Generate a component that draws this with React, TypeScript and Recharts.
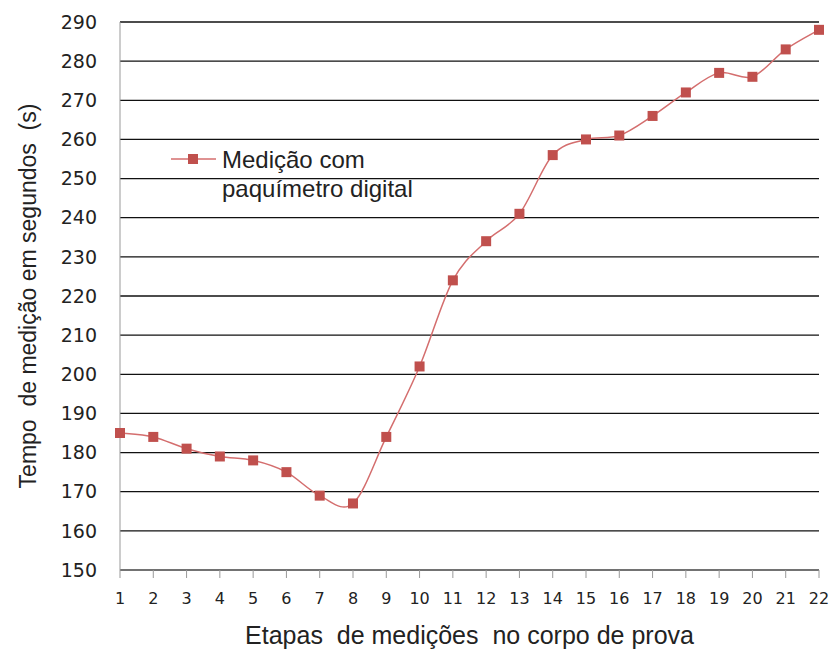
import { LineChart, Line, XAxis, YAxis, CartesianGrid, Label } from "recharts";

const etapas = ["1", "2", "3", "4", "5", "6", "7", "8", "9", "10", "11", "12", "13", "14", "15", "16", "17", "18", "19", "20", "21", "22"];
const tempos = [185, 184, 181, 179, 178, 175, 169, 167, 184, 202, 224, 234, 241, 256, 260, 261, 266, 272, 277, 276, 283, 288];
const yTicks = [150, 160, 170, 180, 190, 200, 210, 220, 230, 240, 250, 260, 270, 280, 290];
const serieNome = ["Medição com", "paquímetro digital"];

const data = etapas.map((e, i) => ({ etapa: e, tempo: tempos[i] }));

// smooth line like the spreadsheet one (catmull-rom through the points)
const smooth = (ctx: any) => {
  let pts: number[][] = [];
  return {
    areaStart() {},
    areaEnd() {},
    lineStart() {
      pts = [];
    },
    point(x: number, y: number) {
      pts.push([+x, +y]);
    },
    lineEnd() {
      if (!pts.length) return;
      ctx.moveTo(pts[0][0], pts[0][1]);
      for (let i = 0; i < pts.length - 1; i++) {
        const p0 = pts[i - 1] || pts[i];
        const p1 = pts[i];
        const p2 = pts[i + 1];
        const p3 = pts[i + 2] || p2;
        ctx.bezierCurveTo(
          p1[0] + (p2[0] - p0[0]) / 6,
          p1[1] + (p2[1] - p0[1]) / 6,
          p2[0] - (p3[0] - p1[0]) / 6,
          p2[1] - (p3[1] - p1[1]) / 6,
          p2[0],
          p2[1]
        );
      }
    },
  };
};

const SquareDot = (props: any) => {
  const { cx, cy, index } = props;
  return <rect key={index} x={cx - 5} y={cy - 5} width={10} height={10} fill="#c0504d" />;
};

const titleFont = { fontFamily: "Liberation Sans, Arial", fill: "#222" };

export default function App() {
  return (
    <div style={{ position: "absolute", left: 0, top: 0, width: 831, height: 653, background: "#fff" }}>
      <LineChart width={831} height={653} data={data} margin={{ top: 22, right: 12, bottom: 0, left: 0 }}>
        <CartesianGrid horizontal vertical={false} stroke="#111" strokeWidth={1.3} />
        <XAxis
          dataKey="etapa"
          height={83}
          stroke="#999"
          tickSize={8}
          tickMargin={15}
          tick={{ fontFamily: "DejaVu Sans", fontSize: 16, fill: "#222" }}
          interval={0}
        >
          <Label
            value={"Etapas\u00a0 de medições\u00a0 no corpo de prova"}
            position="insideBottom"
            offset={9}
            style={{ ...titleFont, fontSize: 25 }}
          />
        </XAxis>
        <YAxis
          domain={[150, 290]}
          ticks={yTicks}
          width={120}
          stroke="#999"
          tickLine={false}
          tickSize={0}
          tickMargin={23}
          tick={{ fontFamily: "DejaVu Sans", fontSize: 19, fill: "#222" }}
          interval={0}
        >
          <Label
            value={"Tempo\u00a0 de medição em segundos\u00a0 (s)"}
            angle={-90}
            position="insideLeft"
            offset={28}
            style={{ ...titleFont, textAnchor: "middle", fontSize: 23 }}
          />
        </YAxis>
        <Line
          dataKey="tempo"
          name={serieNome.join(" ")}
          type={smooth as any}
          stroke="#d46e6e"
          strokeWidth={1.5}
          dot={<SquareDot />}
          activeDot={false}
          isAnimationActive={false}
        />
      </LineChart>
      <div
        style={{
          position: "absolute",
          left: 170,
          top: 145,
          display: "flex",
          alignItems: "flex-start",
          fontFamily: "Liberation Sans, Arial",
          fontSize: 24,
          color: "#222",
          lineHeight: "29px",
        }}
      >
        <svg width={50} height={29} style={{ flex: "none", marginRight: 2 }}>
          <line x1={1} y1={14} x2={46} y2={14} stroke="#d46e6e" strokeWidth={1.5} />
          <rect x={18} y={9} width={10} height={10} fill="#c0504d" />
        </svg>
        <div>
          {serieNome.map((s) => (
            <div key={s}>{s}</div>
          ))}
        </div>
      </div>
    </div>
  );
}
